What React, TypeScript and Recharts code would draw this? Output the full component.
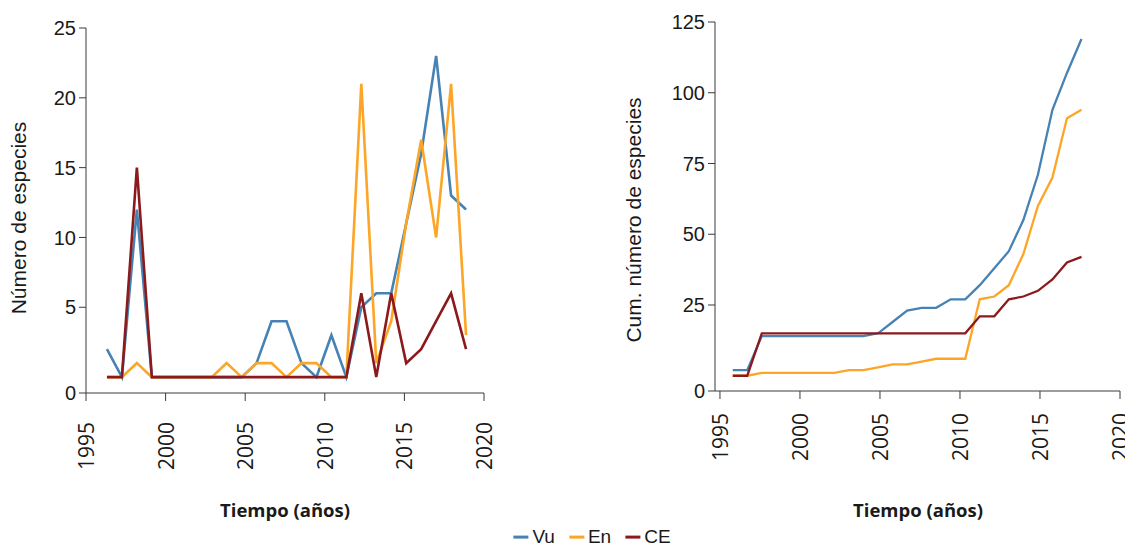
import React from 'react';
import { LineChart, Line, XAxis, YAxis } from 'recharts';

// Species per year (left) and cumulative totals (right)
const years = [
  1995, 1996, 1997, 1998, 1999, 2000, 2001, 2002, 2003, 2004, 2005, 2006, 2007,
  2008, 2009, 2010, 2011, 2012, 2013, 2014, 2015, 2016, 2017, 2018, 2019,
];

const vuCount = [2, 0, 12, 0, 0, 0, 0, 0, 0, 0, 1, 4, 4, 1, 0, 3, 0, 5, 6, 6, 11, 16, 23, 13, 12];
const enCount = [0, 0, 1, 0, 0, 0, 0, 0, 1, 0, 1, 1, 0, 1, 1, 0, 0, 21, 1, 4, 11, 17, 10, 21, 3];
const ceCount = [0, 0, 15, 0, 0, 0, 0, 0, 0, 0, 0, 0, 0, 0, 0, 0, 0, 6, 0, 6, 1, 2, 4, 6, 2];

const vuCum = [2, 2, 14, 14, 14, 14, 14, 14, 14, 14, 15, 19, 23, 24, 24, 27, 27, 32, 38, 44, 55, 71, 94, 107, 119];
const enCum = [0, 0, 1, 1, 1, 1, 1, 1, 2, 2, 3, 4, 4, 5, 6, 6, 6, 27, 28, 32, 43, 60, 70, 91, 94];
const ceCum = [0, 0, 15, 15, 15, 15, 15, 15, 15, 15, 15, 15, 15, 15, 15, 15, 15, 21, 21, 27, 28, 30, 34, 40, 42];

const yearTicks = [1995, 2000, 2005, 2010, 2015, 2020];
const countTicks = [0, 5, 10, 15, 20, 25];
const cumTicks = [0, 25, 50, 75, 100, 125];

const SERIES = [
  { key: 'vu', name: 'Vu', color: '#4682b4' },
  { key: 'en', name: 'En', color: '#fda526' },
  { key: 'ce', name: 'CE', color: '#8b1a1c' },
];

const countData = years.map((year, i) => ({ year, vu: vuCount[i], en: enCount[i], ce: ceCount[i] }));
const cumData = years.map((year, i) => ({ year, vu: vuCum[i], en: enCum[i], ce: ceCum[i] }));

const AXIS_COLOR = '#3a3a3a';
const TICK_FONT = '"Liberation Sans", Arial, sans-serif';
const YEAR_FONT = '"Open Sans", sans-serif';

/**
 * Rotated year label; the original prints the first label at the axis origin
 */
function YearTick(props: any) {
  const { x, y, payload } = props;
  return (
    <text
      x={x}
      y={y}
      transform={`rotate(-90, ${x}, ${y})`}
      textAnchor="end"
      dominantBaseline="central"
      fontFamily={YEAR_FONT}
      fontSize={21}
      fill="#1a1a1a"
    >
      {Math.round(payload.value)}
    </text>
  );
}

interface PanelProps {
  data: any[];
  left: number;
  width: number;
  top: number;
  axisY: number;
  yAxisWidth: number;
  rightMargin: number;
  yMin: number;
  yMax: number;
  yTicks: number[];
  posDomain: [number, number];
  yearDomain: [number, number];
  tickGap: number;
  strokeWidth: number;
}

function Panel(p: PanelProps) {
  // first tick sits on the axis line, as in the source figure
  const ticks = p.yTicks.map(t => (t === 0 ? p.yMin : t));
  const yearTickValues = yearTicks.map(t => (t < p.yearDomain[0] ? p.yearDomain[0] : t));

  return (
    <div style={{ position: 'absolute', left: p.left, top: 0 }}>
      <LineChart
        width={p.width}
        height={545}
        data={p.data}
        margin={{ top: p.top, right: p.rightMargin, left: 0, bottom: 0 }}
        style={{ overflow: 'visible' }}
      >
        <XAxis
          xAxisId="years"
          dataKey="year"
          type="number"
          domain={p.yearDomain}
          allowDataOverflow
          ticks={yearTickValues}
          interval={0}
          height={545 - p.axisY}
          tickSize={8}
          tickMargin={p.tickGap}
          tick={<YearTick />}
          stroke={AXIS_COLOR}
        />
        <XAxis
          xAxisId="pos"
          dataKey="year"
          type="number"
          domain={p.posDomain}
          allowDataOverflow
          height={0}
          hide
        />
        <YAxis
          type="number"
          domain={[p.yMin, p.yMax]}
          allowDataOverflow
          ticks={ticks}
          interval={0}
          width={p.yAxisWidth}
          tickSize={7}
          tickMargin={3}
          tickFormatter={(v: number) => (v < 0 ? '0' : String(v))}
          tick={{ fontSize: 20, fill: '#1a1a1a', fontFamily: TICK_FONT }}
          stroke={AXIS_COLOR}
        />
        {SERIES.map(s => (
          <Line
            key={s.key}
            xAxisId="pos"
            type="linear"
            dataKey={s.key}
            name={s.name}
            stroke={s.color}
            strokeWidth={p.strokeWidth}
            dot={false}
            isAnimationActive={false}
          />
        ))}
      </LineChart>
    </div>
  );
}

export default function App() {
  return (
    <div style={styles.page}>
      <Panel
        data={countData}
        left={0}
        width={500}
        top={28}
        axisY={393}
        yAxisWidth={86}
        rightMargin={16}
        yMin={-1.14}
        yMax={25}
        yTicks={countTicks}
        posDomain={[1993.6, 2020.2]}
        yearDomain={[1995, 2020]}
        tickGap={21}
        strokeWidth={2.6}
      />
      <Panel
        data={cumData}
        left={600}
        width={525}
        top={22}
        axisY={391}
        yAxisWidth={115}
        rightMargin={5}
        yMin={-5.39}
        yMax={125}
        yTicks={cumTicks}
        posDomain={[1993.78, 2021.65]}
        yearDomain={[1994.69, 2020]}
        tickGap={14}
        strokeWidth={2.3}
      />

      <div style={{ ...styles.yTitle, left: 19, top: 218 }}>Número de especies</div>
      <div style={{ ...styles.yTitle, left: 634, top: 220 }}>Cum. número de especies</div>
      <div style={{ ...styles.xTitle, left: 285, top: 510 }}>Tiempo (años)</div>
      <div style={{ ...styles.xTitle, left: 918, top: 510 }}>Tiempo (años)</div>

      <div style={styles.legend}>
        {SERIES.map((s, i) => (
          <div key={s.key} style={{ ...styles.legendItem, marginLeft: i === 0 ? 0 : 14 }}>
            <span style={{ ...styles.swatch, backgroundColor: s.color }} />
            <span>{s.name}</span>
          </div>
        ))}
      </div>
    </div>
  );
}

const styles: Record<string, React.CSSProperties> = {
  page: {
    position: 'absolute',
    left: 0,
    top: 0,
    width: 1125,
    height: 545,
    backgroundColor: '#ffffff',
  },

  yTitle: {
    position: 'absolute',
    transform: 'translate(-50%, -50%) rotate(-90deg)',
    whiteSpace: 'nowrap',
    fontFamily: TICK_FONT,
    fontSize: 21,
    color: '#1a1a1a',
    lineHeight: 1.2,
  },

  xTitle: {
    position: 'absolute',
    transform: 'translate(-50%, -50%)',
    whiteSpace: 'nowrap',
    fontFamily: YEAR_FONT,
    fontWeight: 'bold',
    fontSize: 18.5,
    color: '#1a1a1a',
    lineHeight: 1.3,
  },

  legend: {
    position: 'absolute',
    left: 592,
    top: 537,
    transform: 'translate(-50%, -50%)',
    display: 'flex',
    alignItems: 'center',
    fontFamily: TICK_FONT,
    fontSize: 19,
    color: '#1a1a1a',
    lineHeight: 1.2,
  },

  legendItem: {
    display: 'flex',
    alignItems: 'center',
  },

  swatch: {
    display: 'inline-block',
    width: 15,
    height: 3,
    marginRight: 4,
  },
};
